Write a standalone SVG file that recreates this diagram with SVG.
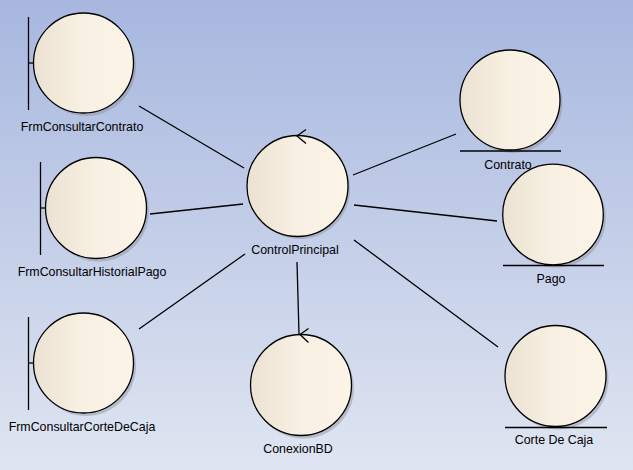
<svg xmlns="http://www.w3.org/2000/svg" width="633" height="470" viewBox="0 0 633 470">
<defs>
<linearGradient id="bg" x1="0" y1="0" x2="0" y2="1">
<stop offset="0" stop-color="#a7b7df"/>
<stop offset="1" stop-color="#dfe5f1"/>
</linearGradient>
<linearGradient id="fill" x1="0" y1="0" x2="1" y2="0">
<stop offset="0" stop-color="#ebe2d3"/>
<stop offset="0.5" stop-color="#f8f0e2"/>
<stop offset="1" stop-color="#fcf4e7"/>
</linearGradient>
</defs>
<style>
.c{fill:url(#fill);stroke:#000;stroke-width:1.3}
.s{fill:#8a8f99;opacity:0.45}
.l{stroke:#000;stroke-width:1.3;fill:none}
text{font-family:"Liberation Sans",Arial,sans-serif;font-size:12.4px;fill:#000;text-anchor:middle}
</style>
<rect width="633" height="470" fill="url(#bg)"/>
<g id="connectors">
<line class="l" x1="139" y1="106" x2="244" y2="168"/>
<line class="l" x1="150" y1="214" x2="243" y2="204"/>
<line class="l" x1="139" y1="329" x2="245" y2="254"/>
<line class="l" x1="353" y1="175" x2="456" y2="134"/>
<line class="l" x1="354" y1="205" x2="497" y2="221"/>
<line class="l" x1="354" y1="240" x2="498" y2="347"/>
<line class="l" x1="297" y1="262" x2="299" y2="334"/>
</g>
<g id="FrmConsultarContrato">
<circle class="s" cx="86" cy="66" r="50"/>
<circle class="c" cx="83.5" cy="63" r="50"/>
<line class="l" x1="28.5" y1="17" x2="28.5" y2="110"/>
<line class="l" x1="28.5" y1="63" x2="33.5" y2="63"/>
<text x="82" y="131">FrmConsultarContrato</text>
</g>
<g id="FrmConsultarHistorialPago">
<circle class="s" cx="98.5" cy="211" r="50.5"/>
<circle class="c" cx="96" cy="208" r="50.5"/>
<line class="l" x1="40.5" y1="162" x2="40.5" y2="255"/>
<line class="l" x1="40.5" y1="208" x2="45.5" y2="208"/>
<text x="92" y="276">FrmConsultarHistorialPago</text>
</g>
<g id="FrmConsultarCorteDeCaja">
<circle class="s" cx="86" cy="366" r="50"/>
<circle class="c" cx="83.5" cy="363" r="50"/>
<line class="l" x1="28.5" y1="317" x2="28.5" y2="410"/>
<line class="l" x1="28.5" y1="363" x2="33.5" y2="363"/>
<text x="82" y="431">FrmConsultarCorteDeCaja</text>
</g>
<g id="ControlPrincipal">
<circle class="s" cx="300" cy="189" r="50"/>
<circle class="c" cx="297.5" cy="186" r="50.5"/>
<polyline class="l" points="306,129.5 297,136 306,143.5"/>
<text x="295" y="254">ControlPrincipal</text>
</g>
<g id="ConexionBD">
<circle class="s" cx="303.5" cy="388" r="50.5"/>
<circle class="c" cx="301" cy="385" r="50.5"/>
<polyline class="l" points="308.5,328.5 300,334.5 308.5,342.5"/>
<text x="298" y="453">ConexionBD</text>
</g>
<g id="Contrato">
<circle class="s" cx="512.5" cy="103" r="50"/>
<circle class="c" cx="510" cy="100" r="50"/>
<line class="l" x1="460" y1="151" x2="561" y2="151"/>
<text x="508" y="169">Contrato</text>
</g>
<g id="Pago">
<circle class="s" cx="555.5" cy="217.5" r="50.3"/>
<circle class="c" cx="553" cy="214.5" r="50.3"/>
<line class="l" x1="503" y1="265.5" x2="604" y2="265.5"/>
<text x="551" y="283">Pago</text>
</g>
<g id="CorteDeCaja">
<circle class="s" cx="558" cy="379" r="50.5"/>
<circle class="c" cx="555.5" cy="376" r="50.5"/>
<line class="l" x1="505" y1="427.5" x2="607" y2="427.5"/>
<text x="554" y="444">Corte De Caja</text>
</g>
</svg>
